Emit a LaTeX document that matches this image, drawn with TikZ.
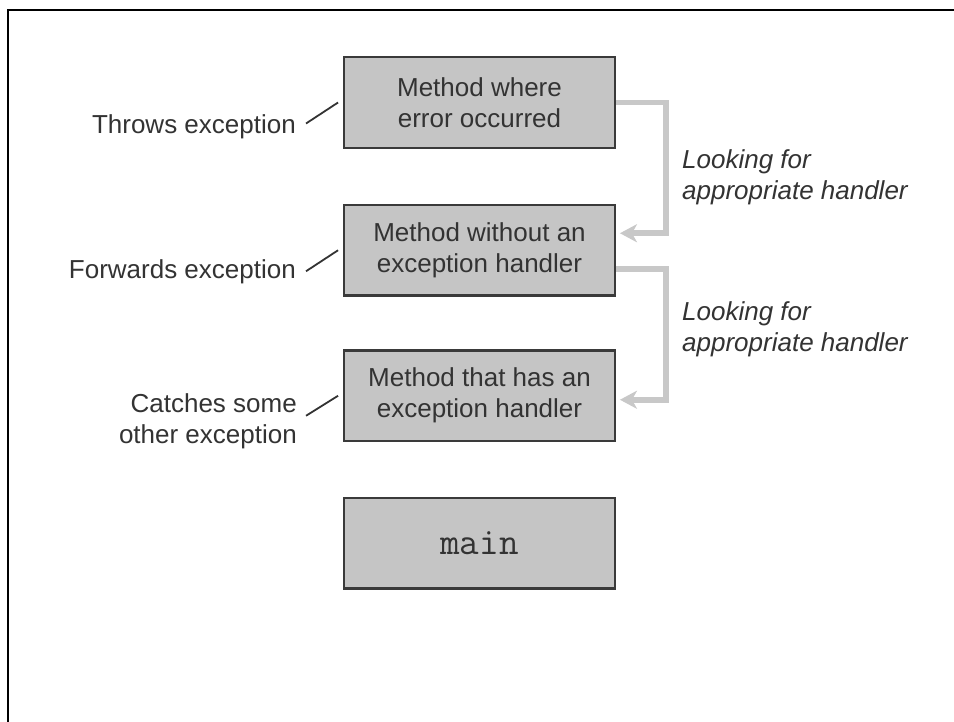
\documentclass[tikz,border=0pt]{standalone}
\usepackage{fontspec}
\setmainfont{Liberation Sans}
\usetikzlibrary{arrows.meta,calc}
\definecolor{boxfill}{HTML}{C5C5C5}
\definecolor{boxline}{HTML}{3A3A3A}
\definecolor{txt}{HTML}{333333}
\definecolor{flowgray}{HTML}{C8C8C8}
\begin{document}
\begin{tikzpicture}[x=1pt,y=-1pt,
  method/.style={draw=boxline, line width=2.4pt, fill=boxfill,
    minimum width=270.5pt, minimum height=90.6pt, inner sep=0pt,
    align=center, text=txt, font=\fontsize{26}{31}\selectfont},
  lab/.style={inner sep=0pt, text=txt, font=\fontsize{26}{31}\selectfont},
  hint/.style={inner sep=0pt, align=left, text=txt, font=\fontsize{26}{31}\selectfont\itshape},
  flow/.style={draw=flowgray, line width=5.5pt, line join=miter,
    -{Stealth[length=17pt,width=18pt,inset=5pt]}},
  slash/.style={draw=txt, line width=1.8pt}]
\useasboundingbox (0,0) rectangle (954,722);
\fill[white] (0,0) rectangle (954,722);
% frame
\draw[line width=2pt, line cap=rect] (8.3,722) -- (8.3,10) -- (954,10);
% boxes
\node[method] (b1) at (479.5,102.5) {Method where\\error occurred};
\node[method] (b2) at (479.5,250.25) {Method without an\\exception handler};
\node[method] (b3) at (479.5,395.75) {Method that has an\\exception handler};
\node[method, font=\fontsize{38}{44}\ttfamily] (b4) at (479.5,543) {main};
% arrow targets
\coordinate (a1) at ([xshift=4pt,yshift=17pt]b2.east);
\coordinate (a2) at ([xshift=4pt,yshift=-4pt]b3.east);
\draw[flow] (b1.east) -- ++(50,0) |- (a1);
\draw[flow] ([yshift=-19pt]b2.east) -- ++(50,0) |- (a2);
% slashes
\draw[slash] ([xshift=-5pt]b1.west) -- ++(-32,21) coordinate (s1);
\draw[slash] ([xshift=-5pt]b2.west) -- ++(-32,21) coordinate (s2);
\draw[slash] ([xshift=-5pt]b3.west) -- ++(-32,20) coordinate (s3);
% left labels
\node[lab, anchor=base east] (l1) at (296,134) {Throws exception};
\node[lab, anchor=base east] (l2) at (296,279) {Forwards exception};
\node[lab, align=right, anchor=north east] (l3) at (297,393) {Catches some\\other exception};
% right labels
\node[hint, anchor=north west] (r1) at (682,149) {Looking for\\appropriate handler};
\node[hint, anchor=north west] (r2) at (682,301) {Looking for\\appropriate handler};
\end{tikzpicture}
\end{document}
